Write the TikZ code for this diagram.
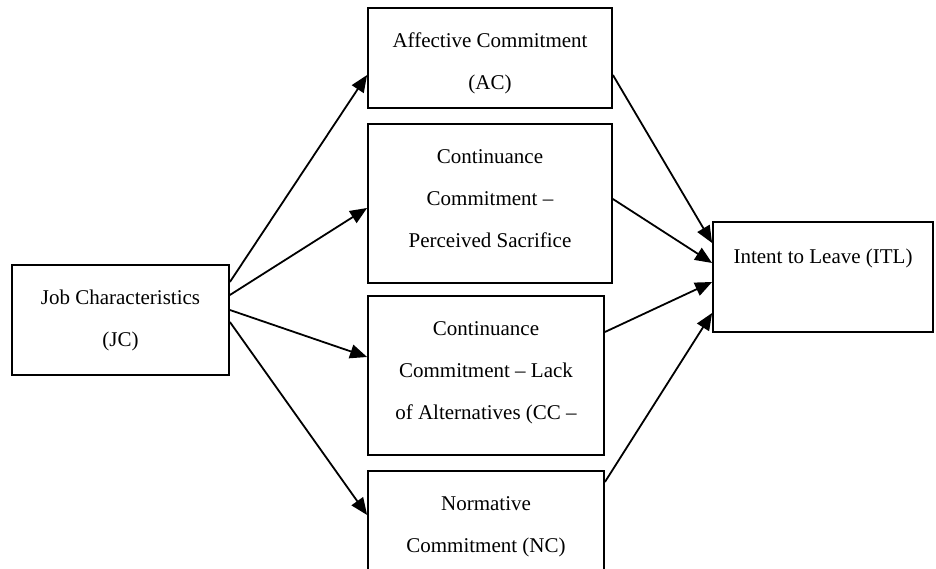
\documentclass[tikz,border=0pt]{standalone}
\usepackage{fontspec}
\setmainfont{Liberation Serif}
\usepackage{tikz}
\usetikzlibrary{arrows.meta,positioning}
\usetikzlibrary{calc}
\tikzstyle{model}=[x=1pt,y=1pt,line width=1.8pt,>={Triangle[length=17pt,width=14pt]}]
\tikzstyle{cbox}=[draw,line width=1.8pt,inner sep=0pt,align=center,%
font=\fontsize{21}{42}\selectfont]

\begin{document}
\begin{tikzpicture}[model]
\useasboundingbox (0,0) rectangle (936,568);
\clip (0,0) rectangle (936,568);
%\node at (468,560) {Model};
\node[cbox,minimum width=217,minimum height=110] (jc) at (120.5,248) {Job Characteristics\\(JC)};
\node[cbox,minimum width=244,minimum height=100,text height=68.5,text depth=4.6] (ac) at (490,510) {Affective Commitment\\(AC)};
\node[cbox,minimum width=244,minimum height=159,text depth=9] (ccps) at (490,364.5) {Continuance\\Commitment --\\Perceived Sacrifice};
\node[cbox,minimum width=236,minimum height=159,text depth=10.5] (ccla) at (486,192.5) {Continuance\\Commitment -- Lack\\of Alternatives (CC --};
\node[cbox,minimum width=236,minimum height=100,text height=68,text depth=4.6] (nc) at (486,47) {Normative\\Commitment (NC)};
\node[cbox,minimum width=220,minimum height=110] (itl) at (823,291) {Intent to Leave (ITL)\\~};
\draw[->] ($(jc.east)+(0,38)$) -- ($(ac.west)+(0,-17)$);
\draw[->] ($(jc.east)+(0,25)$) -- ($(ccps.west)+(0,-4.5)$);
\draw[->] ($(jc.east)+(0,10)$) -- ($(ccla.west)+(0,18.5)$);
\draw[->] ($(jc.east)+(0,-2)$) -- ($(nc.west)+(0,6)$);
\draw[->] ($(ac.east)+(0,-17)$) -- ($(itl.west)+(0,34)$);
\draw[->] ($(ccps.east)+(0,4.5)$) -- ($(itl.west)+(0,14)$);
\draw[->] ($(ccla.east)+(0,43.5)$) -- ($(itl.west)+(0,-5)$);
\draw[->] ($(nc.east)+(0,39)$) -- ($(itl.west)+(0,-36)$);
\end{tikzpicture}
\end{document}
